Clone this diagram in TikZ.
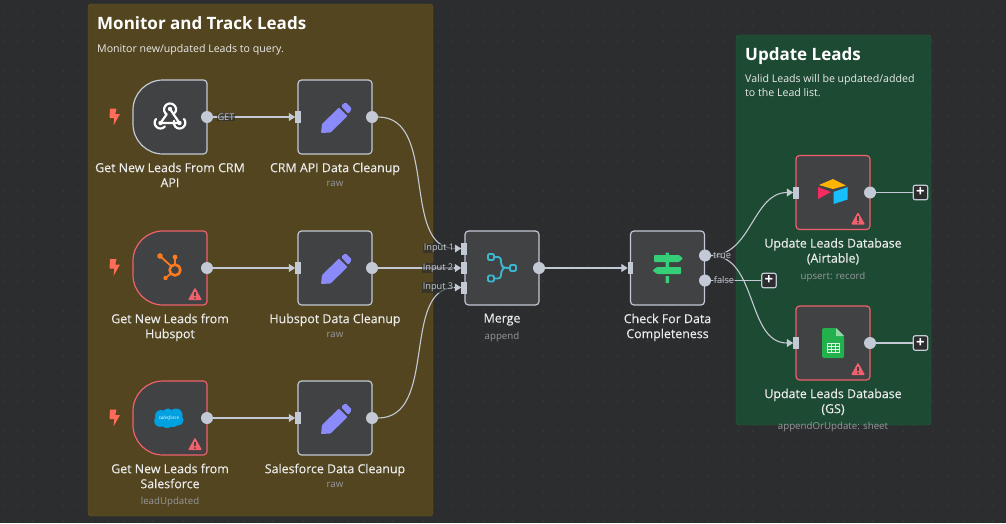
\documentclass[tikz,border=0pt]{standalone}
\usepackage{fontspec}
\setmainfont{Open Sans}
\newfontfamily\namefont[FakeBold=.3]{Open Sans}
\usetikzlibrary{arrows.meta}
\definecolor{canvasbg}{HTML}{2C2D2E}
\definecolor{griddot}{HTML}{464849}
\definecolor{yellowgroup}{HTML}{52451F}
\definecolor{yellowedge}{HTML}{6A5A26}
\definecolor{greengroup}{HTML}{1D4A32}
\definecolor{greenedge}{HTML}{2A6044}
\definecolor{nodefill}{HTML}{414244}
\definecolor{nodeedge}{HTML}{C3C9D5}
\definecolor{alertred}{HTML}{F0616D}
\definecolor{boltred}{HTML}{FF6D5A}
\definecolor{pencilblue}{HTML}{8A8AFB}
\definecolor{mergeteal}{HTML}{3CB6CC}
\definecolor{signgreen}{HTML}{35CF78}
\definecolor{huborange}{HTML}{FF7A1F}
\definecolor{cloudblue}{HTML}{00A1E0}
\definecolor{airyellow}{HTML}{FFB400}
\definecolor{airblue}{HTML}{18BFFF}
\definecolor{airred}{HTML}{F82B60}
\definecolor{sheetgreen}{HTML}{23B14D}
\definecolor{subtext}{HTML}{96989E}
\tikzset{
	box/.style={draw=nodeedge,fill=nodefill,line width=1.2pt,rounded corners=3.5pt,minimum size=74pt,inner sep=0pt,outer sep=0pt},
	badbox/.style={box,draw=alertred},
	trigbox/.style={minimum size=74pt,inner sep=0pt,outer sep=0pt},
	outport/.style={circle,fill=nodeedge,minimum size=12pt,inner sep=0pt,outer sep=0pt},
	inport/.style={fill=nodeedge,minimum width=5.5pt,minimum height=12pt,inner sep=0pt,outer sep=0pt},
	link/.style={draw=nodeedge,line width=1.1pt,->},
	addbox/.style={draw=nodeedge,fill=canvasbg,line width=1.2pt,rounded corners=2pt,minimum size=14.5pt,inner sep=0pt,outer sep=0pt,text=white,font=\fontsize{15}{15}\selectfont\bfseries},
	namelabel/.style={below,align=center,text=white!92!black,font=\namefont\fontsize{12.4}{15}\selectfont,inner sep=0pt,yshift=-8.5pt,text depth=0pt},
	sublabel/.style={below,text=subtext,font=\fontsize{9.7}{12}\selectfont,inner sep=0pt,yshift=-9pt},
	portlabel/.style={text=nodeedge,font=\fontsize{9.2}{10}\selectfont,inner sep=.6pt,fill=canvasbg,fill opacity=.65,text opacity=1},
	grouptitle/.style={anchor=north west,text=white,font=\fontsize{17}{20}\selectfont\bfseries,inner sep=0pt},
	groupnote/.style={anchor=north west,align=left,text=white!92!black,font=\fontsize{10.6}{14.5}\selectfont,inner sep=0pt},
	pencil/.pic={
		\fill[pencilblue,rounded corners=.8pt] (-14,16)--(-13,7)--(4,-9.5)--(12.5,-1)--(-4.5,15.5)--cycle;
		\fill[pencilblue,rounded corners=1.5pt] (6,-11)--(10.5,-15)--(17,-8.5)--(13.5,-3)--cycle;
	},
	bolt/.pic={
		\fill[boltred,rounded corners=.4pt] (-4.5,-8.5)--(2,-8.5)--(.8,-3)--(5.5,-3)--(-1,8.5)--(-.2,1)--(-5,1)--cycle;
	},
	warn/.pic={
		\fill[alertred,line join=round,rounded corners=1pt] (0,-6.5)--(7,6)--(-7,6)--cycle;
		\fill[nodefill] (-.9,-2.2) rectangle (.9,2.2);
		\fill[nodefill] (0,4) circle[radius=1pt];
	},
	webhook/.pic={
		\draw[white,line width=2.2pt,line cap=round] (-3.4,-2.6) arc[start angle=235,end angle=-35,radius=6pt];
		\draw[white,line width=2.2pt,line cap=round] (0,-8)--(9.5,6)--(-9.5,6);
		\draw[white,line width=2.2pt,line cap=round] (-3.4,-2.6)--(-9.5,6);
		\draw[white,line width=2.2pt,line cap=round] (-14,2)arc[start angle=140,end angle=320,radius=5.8pt];
		\draw[white,line width=2.2pt,line cap=round] (14,2)arc[start angle=40,end angle=-200,radius=5.8pt];
		\fill[white] (0,-8) circle[radius=2.2pt] (9.5,6) circle[radius=2.2pt] (-9.5,6) circle[radius=2.2pt];
	},
	hubspot/.pic={
		\draw[huborange,line width=2.6pt] (5,2) circle[radius=5.4pt];
		\draw[huborange,line width=1.8pt] (5,-11)--(5,-3) (-10,-12)--(1,-2) (-4.5,10)--(1,5.5);
		\fill[huborange] (5,-11) circle[radius=2.4pt] (-10,-12) circle[radius=2.8pt] (-4.5,10) circle[radius=2.2pt];
	},
	cloud/.pic={
		\fill[cloudblue] (-8,-2) circle[radius=6pt] (-1,-4) circle[radius=5.6pt] (7,-3) circle[radius=6.5pt] (9,2) circle[radius=5.6pt] (-9,3) circle[radius=5.8pt] (-2,3) circle[radius=7pt] (4,3) circle[radius=6pt] (0,0) circle[radius=8pt];
	},
	mergeicon/.pic={
		\draw[mergeteal,line width=1.9pt,rounded corners=1.2pt] (-14,-14) rectangle (-8,-8) (-14,7.5) rectangle (-8,13.5) (8,-3) rectangle (14,3);
		\draw[mergeteal,line width=1.9pt,rounded corners=3pt] (-8,-11)--(-1,-11)--(-1,-3)--(2,0)--(8,0) (-8,10.5)--(-1,10.5)--(-1,3)--(2,0);
	},
	signicon/.pic={
		\fill[signgreen] (-1.5,-15.5) rectangle (2,-12.5) (-1.5,-6) rectangle (2,-1) (-1.5,8) rectangle (2,15);
		\fill[signgreen,rounded corners=.8pt] (-13,-13)--(12,-13)--(16,-9.5)--(12,-6)--(-13,-6)--cycle;
		\fill[signgreen,rounded corners=.8pt] (14,-1)--(-10,-1)--(-14.5,2.5)--(-10,6)--(14,6)--cycle;
	},
	airtable/.pic={
		\fill[airyellow] (-14,-7)--(0,-13)--(13,-6.5)--(0,-3)--cycle;
		\fill[airblue] (.5,0)--(14.5,-5)--(14.5,7.5)--(.5,12)--cycle;
		\fill[airred] (-15,-5)--(-2,0)--(-15,7)--cycle;
	},
	sheet/.pic={
		\fill[sheetgreen,rounded corners=1.5pt] (-11,-15)--(3,-15)--(11,-7)--(11,15)--(-11,15)--cycle;
		\fill[sheetgreen!50!white] (3,-15)--(11,-7)--(3,-7)--cycle;
		\draw[white!85!sheetgreen,line width=.9pt] (-6,0) rectangle (6,9) (-6,3) -- (6,3) (-6,6) -- (6,6) (-2,0) -- (-2,9) (2,0) -- (2,9);
	}
}
% left edge round, right edge square
\newcommand{\trigshape}[2]{\draw[draw=#2,fill=nodefill,line width=1.2pt] (#1.north) [rounded corners=3.5pt] -- (#1.north east) -- (#1.south east) -- (#1.south) [rounded corners=30pt] -- (#1.south west) -- (#1.north west) -- (#1.north);}
\begin{document}
\begin{tikzpicture}[x=1pt,y=-1pt,line join=round,>={Triangle[length=6.5pt,width=8pt]}]
	\fill[canvasbg] (0,0) rectangle (1006,523);
	\useasboundingbox (0,0) rectangle (1006,523);
	\foreach \i in {0,...,66}
		\foreach \j in {0,...,34}
			\fill[griddot] ({3+15*\i},{11+15*\j}) circle[radius=.6pt];
	% groups
	\draw[draw=yellowedge,fill=yellowgroup,rounded corners=3pt] (88,4) rectangle (433,516);
	\draw[draw=greenedge,fill=greengroup,rounded corners=3pt] (736,35) rectangle (931,425);
	\node (leadstitle) at (97,16) [grouptitle]{Monitor and Track Leads};
	\node (leadsnote) at (97,44.5) [groupnote]{Monitor new/updated Leads to query.};
	\node (updatetitle) at (745,47) [grouptitle]{Update Leads};
	\node (updatenote) at (745,74) [groupnote]{Valid Leads will be updated/added\\to the Lead list.};
	% triggers
	\node (crmapi) at (170,117) [trigbox]{};
	\node (hubspot) at (170,268) [trigbox]{};
	\node (salesforce) at (170,418) [trigbox]{};
	\trigshape{crmapi}{nodeedge}
	\trigshape{hubspot}{alertred}
	\trigshape{salesforce}{alertred}
	% cleanup, merge, check
	\node (crmclean) at (335,117) [box]{};
	\node (hubclean) at (335,268) [box]{};
	\node (sfclean) at (335,418) [box]{};
	\node (merge) at (502,268) [box]{};
	\node (check) at (667.5,268) [box]{};
	\node (airtable) at (833,192.5) [badbox]{};
	\node (gsheet) at (833,343) [badbox]{};
	% icons
	\pic at (170,117) {webhook};
	\pic at (170,268) {hubspot};
	\pic at (169,418) {cloud};
	\node (sflogo) at (169,418) [text=white,font=\fontsize{4.6}{5}\selectfont\itshape,inner sep=0pt]{salesforce};
	\pic at (335,117) {pencil};
	\pic at (335,268) {pencil};
	\pic at (335,418) {pencil};
	\pic at (502,268) {mergeicon};
	\pic at (667,268) {signicon};
	\pic at (833,192) {airtable};
	\pic at (833,343) {sheet};
	\pic at (114.5,117) {bolt};
	\pic at (114.5,267.5) {bolt};
	\pic at (114.5,418) {bolt};
	\pic at (195,294) {warn};
	\pic at (195,444) {warn};
	\pic at (858,218.5) {warn};
	\pic at (858,369) {warn};
	% ports
	\node (crmapiout) at (crmapi.east) [outport]{};
	\node (hubspotout) at (hubspot.east) [outport]{};
	\node (salesforceout) at (salesforce.east) [outport]{};
	\node (crmcleanin) at (crmclean.west) [inport]{};
	\node (hubcleanin) at (hubclean.west) [inport]{};
	\node (sfcleanin) at (sfclean.west) [inport]{};
	\node (crmcleanout) at (crmclean.east) [outport]{};
	\node (hubcleanout) at (hubclean.east) [outport]{};
	\node (sfcleanout) at (sfclean.east) [outport]{};
	\node (mergein1) at (464,248.5) [inport]{};
	\node (mergein2) at (464,268) [inport]{};
	\node (mergein3) at (464,287.5) [inport]{};
	\node (mergeout) at (merge.east) [outport]{};
	\node (checkin) at (check.west) [inport]{};
	\node (checktrue) at (705,255.5) [outport]{};
	\node (checkfalse) at (705,280.5) [outport]{};
	\node (airtablein) at (airtable.west) [inport]{};
	\node (gsheetin) at (gsheet.west) [inport]{};
	\node (airtableout) at (airtable.east) [outport]{};
	\node (gsheetout) at (gsheet.east) [outport]{};
	\node (falseadd) at (769,280.5) [addbox]{+};
	\node (airtableadd) at (920.5,192.5) [addbox]{+};
	\node (gsheetadd) at (920.5,343) [addbox]{+};
	% links
	\draw[link] (crmapiout)--(crmcleanin);
	\draw[link] (hubspotout)--(hubcleanin);
	\draw[link] (salesforceout)--(sfcleanin);
	\draw[link] (crmcleanout) to[out=0,in=180] (mergein1);
	\draw[link] (hubcleanout)--(mergein2);
	\draw[link] (sfcleanout) to[out=0,in=180] (mergein3);
	\draw[link] (mergeout)--(checkin);
	\draw[link] (checktrue) to[out=0,in=180] (airtablein);
	\draw[link] (checktrue) to[out=0,in=180] (gsheetin);
	\draw[link,-] (checkfalse)--(falseadd);
	\draw[link,-] (airtableout)--(airtableadd);
	\draw[link,-] (gsheetout)--(gsheetadd);
	% port labels
	\node (getlabel) at (226,117) [portlabel]{GET};
	\node (in1label) at (439,248.5) [portlabel]{Input 1};
	\node (in2label) at (438,268) [portlabel]{Input 2};
	\node (in3label) at (438,287.5) [portlabel]{Input 3};
	\node (truelabel) at (722,255.5) [portlabel]{true};
	\node (falselabel) at (724,280.5) [portlabel]{false};
	% names
	\node (crmapiname) at (crmapi.south) [namelabel]{Get New Leads From CRM\\API};
	\node (crmcleanname) at (crmclean.south) [namelabel]{CRM API Data Cleanup};
	\node (crmcleansub) at (crmcleanname.south) [sublabel]{raw};
	\node (hubspotname) at (hubspot.south) [namelabel]{Get New Leads from\\Hubspot};
	\node (hubcleanname) at (hubclean.south) [namelabel]{Hubspot Data Cleanup};
	\node (hubcleansub) at (hubcleanname.south) [sublabel]{raw};
	\node (salesforcename) at (salesforce.south) [namelabel]{Get New Leads from\\Salesforce};
	\node (salesforcesub) at (salesforcename.south) [sublabel]{leadUpdated};
	\node (sfcleanname) at (sfclean.south) [namelabel]{Salesforce Data Cleanup};
	\node (sfcleansub) at (sfcleanname.south) [sublabel]{raw};
	\node (mergename) at (merge.south) [namelabel]{Merge};
	\node (mergesub) at (mergename.south) [sublabel]{append};
	\node (checkname) at (check.south) [namelabel]{Check For Data\\Completeness};
	\node (airtablename) at (airtable.south) [namelabel]{Update Leads Database\\(Airtable)};
	\node (airtablesub) at (airtablename.south) [sublabel]{upsert: record};
	\node (gsheetname) at (gsheet.south) [namelabel]{Update Leads Database\\(GS)};
	\node (gsheetsub) at (gsheetname.south) [sublabel]{appendOrUpdate: sheet};
\end{tikzpicture}
\end{document}
